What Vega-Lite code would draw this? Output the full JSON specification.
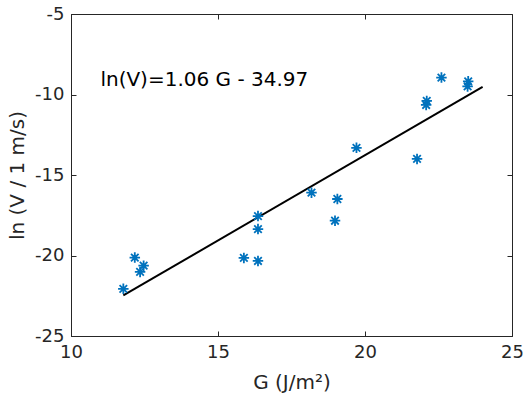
{
  "$schema": "https://vega.github.io/schema/vega-lite/v6.json",
  "autosize": "none",
  "width": 441,
  "height": 322,
  "padding": {"left": 71, "top": 14, "right": 18, "bottom": 58},
  "background": "white",
  "config": {
    "font": "DejaVu Sans",
    "view": {"stroke": "#262626", "strokeWidth": 1},
    "axis": {
      "grid": false,
      "domainColor": "#262626",
      "tickColor": "#262626",
      "labelColor": "#262626",
      "titleColor": "#262626",
      "labelFontSize": 18,
      "titleFontSize": 20,
      "titleFontWeight": "normal",
      "tickSize": -5,
      "labelPadding": 12,
      "labelFlush": false,
      "labelExpr": "datum.value + ''"
    }
  },
  "datasets": {
    "pts": [
      {"G": 11.78, "lnV": -22.07},
      {"G": 12.17, "lnV": -20.13},
      {"G": 12.47, "lnV": -20.63},
      {"G": 12.35, "lnV": -21.02},
      {"G": 15.88, "lnV": -20.15},
      {"G": 16.36, "lnV": -17.55},
      {"G": 16.36, "lnV": -18.36},
      {"G": 16.36, "lnV": -20.34},
      {"G": 18.18, "lnV": -16.1},
      {"G": 19.06, "lnV": -16.49},
      {"G": 18.98, "lnV": -17.84},
      {"G": 19.71, "lnV": -13.31},
      {"G": 21.77, "lnV": -14.0},
      {"G": 22.1, "lnV": -10.4},
      {"G": 22.08, "lnV": -10.65},
      {"G": 22.6, "lnV": -8.95},
      {"G": 23.51, "lnV": -9.18},
      {"G": 23.49, "lnV": -9.5}
    ],
    "fit": [
      {"G": 11.78, "lnV": -22.48},
      {"G": 24.0, "lnV": -9.53}
    ],
    "label": [
      {"G": 11.0, "lnV": -9.1, "text": "ln(V)=1.06 G - 34.97"}
    ]
  },
  "resolve": {"axis": {"x": "independent", "y": "independent"}},
  "layer": [
    {
      "data": {"name": "fit"},
      "mark": {"type": "line", "color": "black", "strokeWidth": 2},
      "encoding": {
        "x": {"field": "G", "type": "quantitative", "scale": {"domain": [10, 25], "nice": false},
              "axis": {"title": "G (J/m²)", "values": [10, 15, 20, 25], "titleY": 52, "titleBaseline": "alphabetic"}},
        "y": {"field": "lnV", "type": "quantitative", "scale": {"domain": [-25, -5], "nice": false, "zero": false},
              "axis": {"title": "ln (V / 1 m/s)", "values": [-25, -20, -15, -10, -5], "titleX": -48, "titleBaseline": "alphabetic"}}
      }
    },
    {
      "data": {"name": "pts"},
      "mark": {"type": "point", "shape": "M-1,0L1,0M0,-1L0,1M-0.72,-0.72L0.72,0.72M-0.72,0.72L0.72,-0.72", "size": 110, "stroke": "#0072BD", "strokeWidth": 1.8, "filled": false, "opacity": 1},
      "encoding": {
        "x": {"field": "G", "type": "quantitative",
              "axis": {"orient": "top", "values": [10, 15, 20, 25], "labels": false, "title": null, "domain": false}},
        "y": {"field": "lnV", "type": "quantitative",
              "axis": {"orient": "right", "values": [-25, -20, -15, -10, -5], "labels": false, "title": null, "domain": false}}
      }
    },
    {
      "data": {"name": "label"},
      "mark": {"type": "text", "align": "left", "baseline": "middle", "fontSize": 20, "color": "black"},
      "encoding": {
        "x": {"field": "G", "type": "quantitative", "axis": null},
        "y": {"field": "lnV", "type": "quantitative", "axis": null},
        "text": {"field": "text"}
      }
    }
  ]
}
